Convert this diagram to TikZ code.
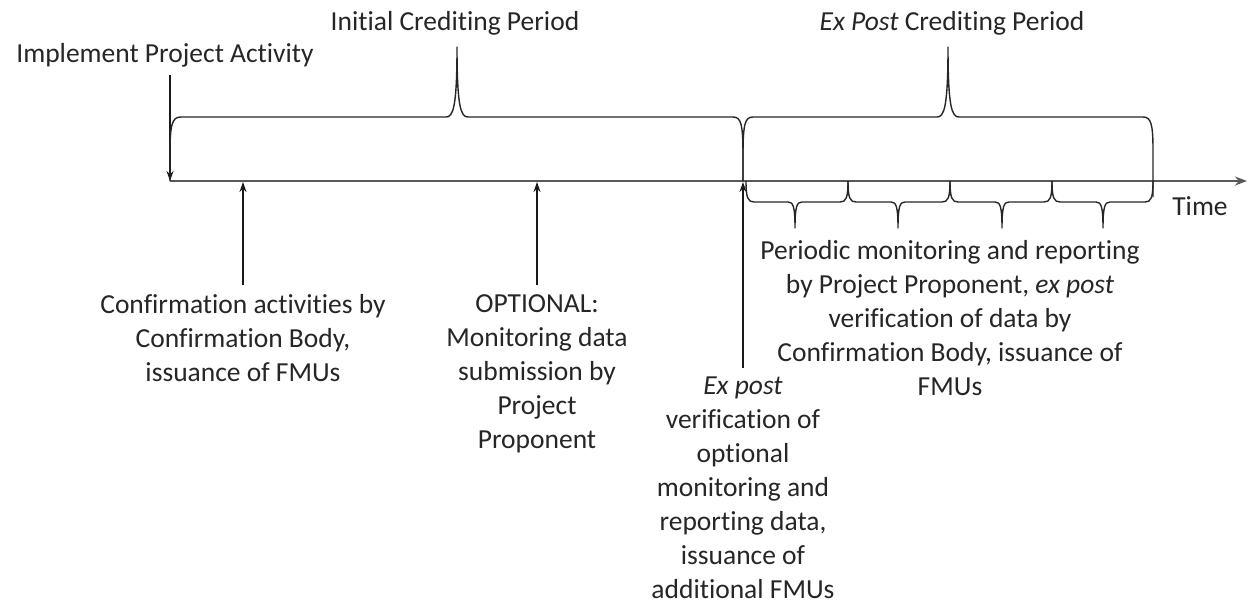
\documentclass[tikz,border=0pt]{standalone}
\usepackage{fontspec}
\setmainfont{Carlito}[Ligatures={NoCommon}]
\usetikzlibrary{arrows.meta}
\begin{document}
\begin{tikzpicture}[x=1pt,y=-1pt,
  lbl/.style={align=center, font=\fontsize{27.5}{34}\selectfont, inner sep=0pt, anchor=north, text=black!85},
  bracepath/.style={line width=1.4pt, black!85, line join=round},
  axisline/.style={line width=2pt, black!65, -{Stealth[length=12pt,width=9pt]}},
  arr/.style={line width=1.4pt, black!90, -{Stealth[length=10pt,width=7pt]}}]
\useasboundingbox (0,0) rectangle (1248,605);

% axis
\coordinate (axL) at (170,181);
\coordinate (axR) at (1247,181);
\draw[axisline] (axL) -- (axR);

% labels
\node[lbl] (impl) at (165,43) {Implement Project Activity};
\node[lbl] (init) at (455,11) {Initial Crediting Period};
\node[lbl] (expc) at (952,11) {\textit{Ex Post} Crediting Period};
\node[lbl] (time) at (1200,196) {Time};
\node[lbl] (conf) at (243,294) {Confirmation activities by\\Confirmation Body,\\issuance of FMUs};
\node[lbl] (opt) at (537,294) {OPTIONAL:\\Monitoring data\\submission by\\Project\\Proponent};
\node[lbl] (expv) at (743,377) {\textit{Ex post}\\verification of\\optional\\monitoring and\\reporting data,\\issuance of\\additional FMUs};
\node[lbl] (peri) at (950,240) {Periodic monitoring and reporting\\by Project Proponent, \textit{ex post}\\verification of data by\\Confirmation Body, issuance of\\FMUs};

% arrows
\draw[arr, shorten <=8pt] (impl.south -| axL) -- (axL);
\draw[arr, shorten <=9pt, shorten >=1pt] (conf.north) -- (conf.north |- axL);
\draw[arr, shorten <=9pt, shorten >=1pt] (opt.north) -- (opt.north |- axL);
\draw[arr, shorten <=9pt, shorten >=1pt] (expv.north) -- (expv.north |- axL);

% big braces
\draw[bracepath] (170,181) -- (170,155) .. controls (170,124) and (172,117) .. (181,117)
  -- (446,117) .. controls (453,117) and (457,108) .. (457,47)
  .. controls (457,108) and (461,117) .. (468,117)
  -- (733,117) .. controls (741,117) and (743,124) .. (743,155) -- (743,181);
\draw[bracepath] (743,181) -- (743,155) .. controls (743,124) and (745,117) .. (753,117)
  -- (937,117) .. controls (944,117) and (948,108) .. (948,47)
  .. controls (948,108) and (952,117) .. (959,117)
  -- (1143,117) .. controls (1151,117) and (1153,124) .. (1153,150) -- (1153,197);

% small braces
\foreach \a/\m/\b in {746/795/848, 848/898/950, 950/1002/1052, 1052/1103/1153}{
  \draw[bracepath] (\a,181) .. controls (\a,198) and (\a+2,202) .. (\a+8,202)
    -- (\m-7,202) .. controls (\m-2,202) and (\m,206) .. (\m,228)
    .. controls (\m,206) and (\m+2,202) .. (\m+7,202)
    -- (\b-8,202) .. controls (\b-2,202) and (\b,198) .. (\b,181);
}
\end{tikzpicture}
\end{document}
